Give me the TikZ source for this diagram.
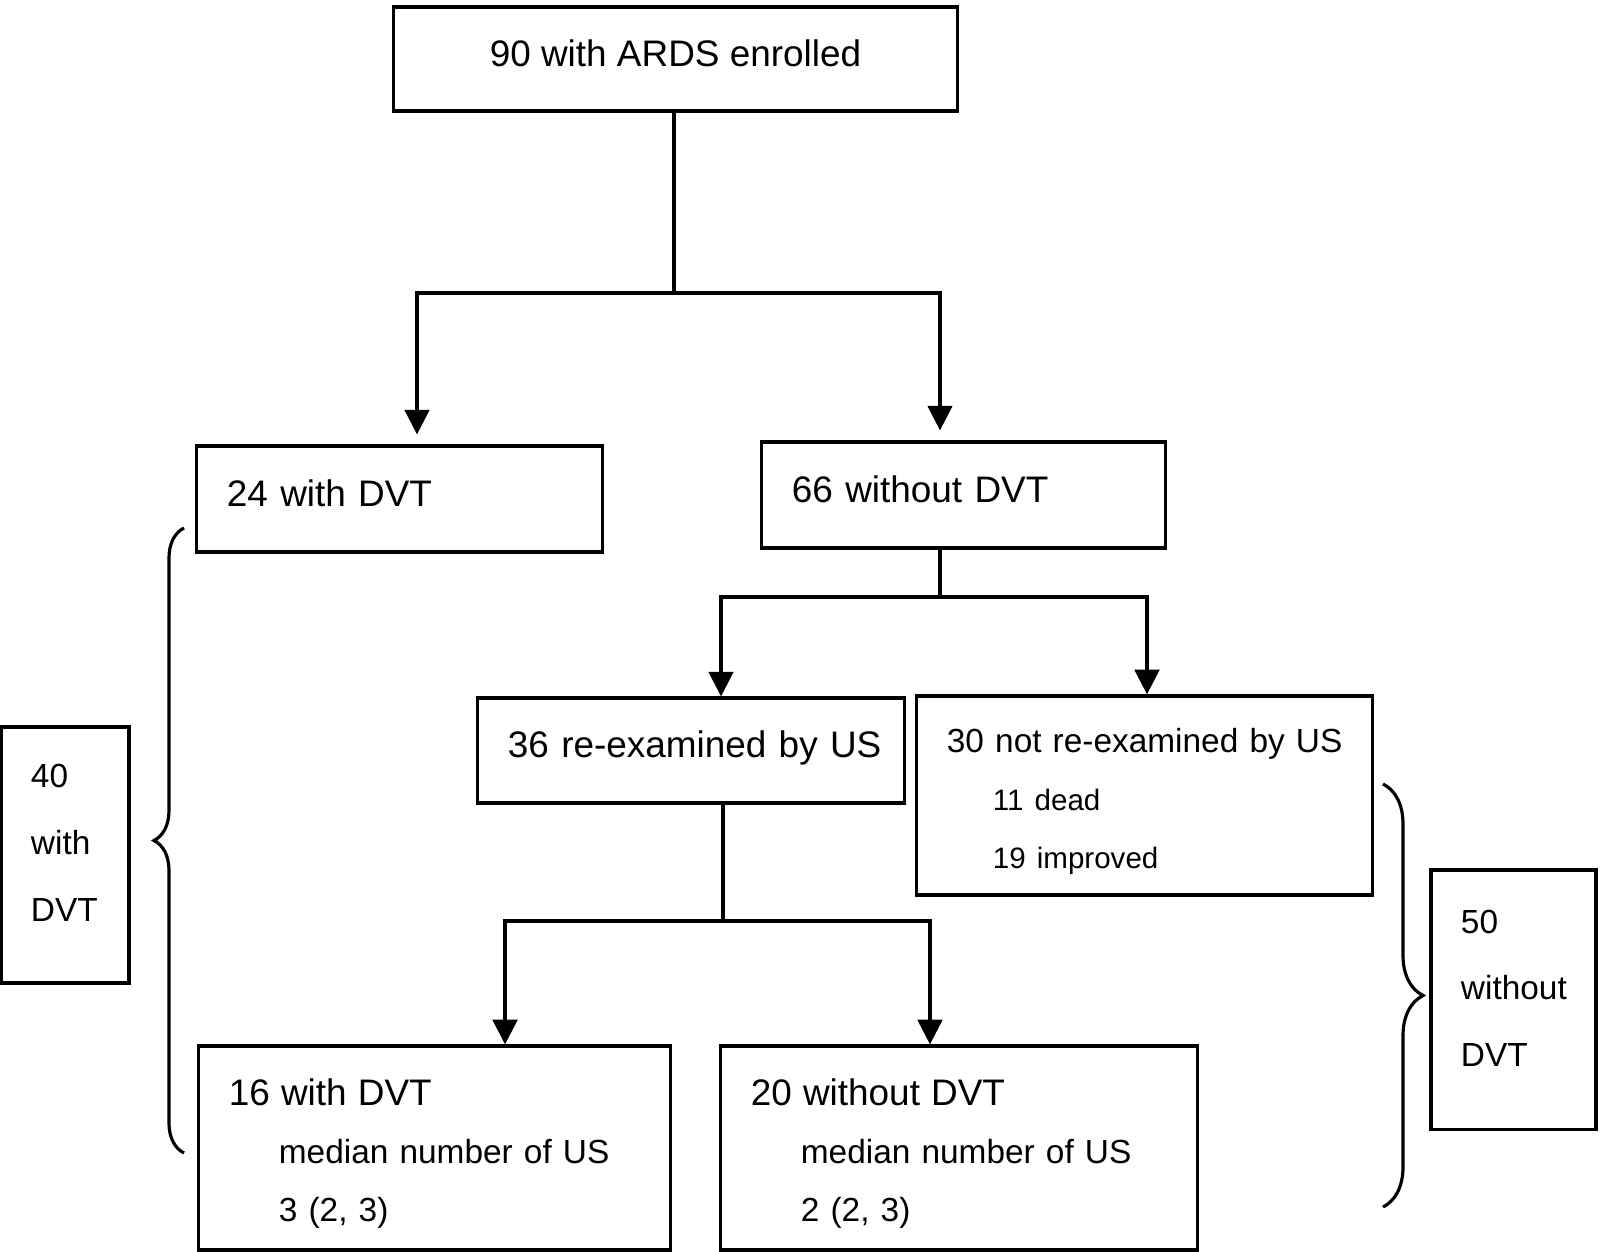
\documentclass[tikz,border=0pt]{standalone}
\usepackage{fontspec}
\setmainfont{Liberation Sans}
\usetikzlibrary{arrows.meta}
\usetikzlibrary{decorations.pathreplacing}

\tikzset{
  box/.style={rectangle, draw, line width=0.9pt, inner xsep=0.3cm, inner ysep=0pt, align=left},
  single/.style={font=\fontsize{10.5}{12}\selectfont, text depth=0.12cm},
  arr/.style={-{Triangle[width=7pt, length=7pt]}, line width=0.9pt},
  brc/.style={decorate, line width=0.9pt}
}

\begin{document}
\begin{tikzpicture}[x=0.01cm, y=-0.01cm]
\useasboundingbox (0,0) rectangle (1600,1252);

% Nodes
\node[box, single, align=center, minimum width=5.63cm, minimum height=1.04cm] at (675.5,59) (enrol) {90 with ARDS enrolled} ;
\node[box, single, text width=3.45cm, minimum height=1.06cm] at (399.5,499) (dvt) {24 with DVT} ;
\node[box, single, text width=3.43cm, minimum height=1.06cm] at (963.5,495) (nodvt) {66 without DVT} ;
\node[box, single, text width=3.66cm, minimum height=1.05cm] at (691,750.5) (reex) {\mbox{36 re-examined by US}} ;
\node[box, font=\fontsize{9.5}{16.5}\selectfont, text width=3.95cm, minimum height=1.99cm] at (1144.5,795.5) (notre) {\rule{0pt}{10.4pt}\mbox{30 not re-examined by US}\\
  \fontsize{8.4}{16.5}\selectfont\hspace*{0.46cm}11 dead\\
  \hspace*{0.46cm}19 improved} ;
\node[box, font=\fontsize{9.5}{16.5}\selectfont, text width=4.11cm, minimum height=2.04cm] at (434.5,1148) (sub1) {\fontsize{10.5}{16.5}\selectfont\rule{0pt}{11pt}16 with DVT\\
  \fontsize{9.5}{16.5}\selectfont\hspace*{0.5cm}median number of US\\
  \hspace*{0.5cm}3 (2, 3)} ;
\node[box, font=\fontsize{9.5}{16.5}\selectfont, text width=4.16cm, minimum height=2.04cm] at (959,1148) (sub2) {\fontsize{10.5}{16.5}\selectfont\rule{0pt}{11pt}20 without DVT\\
  \fontsize{9.5}{16.5}\selectfont\hspace*{0.5cm}median number of US\\
  \hspace*{0.5cm}2 (2, 3)} ;
\node[box, font=\fontsize{9.5}{19}\selectfont, text width=0.68cm, minimum height=2.56cm] at (65,855) (totdvt) {40\\ with\\ DVT\rule[-6.8pt]{0pt}{0pt}} ;
\node[box, font=\fontsize{9.5}{19}\selectfont, text width=1.05cm, minimum height=2.59cm] at (1513.5,999.5) (totno) {50\\ without\\ DVT\rule[-6.4pt]{0pt}{0pt}} ;

\coordinate (s1) at (674,293) ;
\coordinate (s2) at (940,597) ;
\coordinate (s3) at (723,921) ;

% Lines
\draw[line width=0.9pt] (enrol.south -| s1) -- (s1) ;
\draw[arr, shorten >=0.1cm] (s1) -| ([xshift=0.175cm]dvt.north) ;
\draw[arr, shorten >=0.1cm] (s1) -| ([xshift=-0.235cm]nodvt.north) ;
\draw[line width=0.9pt] (nodvt.south -| s2) -- (s2) ;
\draw[arr] (s2) -| ([xshift=0.3cm]reex.north) ;
\draw[arr] (s2) -| ([xshift=0.025cm]notre.north) ;
\draw[line width=0.9pt] (reex.south -| s3) -- (s3) ;
\draw[arr] (s3) -| ([xshift=0.705cm]sub1.north) ;
\draw[arr] (s3) -| ([xshift=-0.29cm]sub2.north) ;

% Braces
\draw[brc, decoration={brace, amplitude=0.3cm}] (184,1153) -- (184,528) ;
\draw[brc, decoration={brace, amplitude=0.4cm}] (1383,784) -- (1383,1207) ;

\end{tikzpicture}
\end{document}
